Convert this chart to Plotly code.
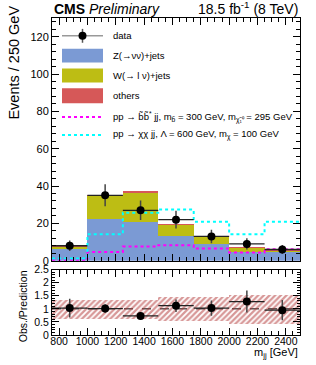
import plotly.graph_objects as go

# ---------------- data ----------------
bin_lo = [750, 1000, 1250, 1500, 1750, 2000, 2250]
bin_hi = [1000, 1250, 1500, 1750, 2000, 2250, 2500]
bin_centers = [875, 1125, 1375, 1625, 1875, 2125, 2375]
bin_halfwidth = [125, 125, 125, 125, 125, 125, 125]

z_jets = [6.5, 22.3, 20.5, 13.1, 9.2, 4.8, 4.4]
w_jets = [1.0, 12.4, 15.8, 6.2, 3.8, 2.1, 1.3]
others = [0.1, 0.3, 0.9, 0.3, 0.1, 0.1, 0.1]

data_vals = [8, 35, 27, 22, 13, 9, 6]
data_errs = [2.8, 5.9, 5.2, 4.7, 3.6, 3.0, 2.4]

sbottom = [0.4, 4.6, 7.6, 8.3, 6.5, 4.4, 6.2]
dm_sig = [1.2, 14.2, 25.7, 27.4, 20.9, 14.2, 20.9]

ratio_vals = [1.03, 1.01, 0.73, 1.12, 1.03, 1.28, 0.95]
ratio_errs = [0.36, 0.17, 0.14, 0.24, 0.29, 0.42, 0.39]
band_lo = [0.63, 0.63, 0.63, 0.55, 0.55, 0.45, 0.45]
band_hi = [1.37, 1.37, 1.37, 1.45, 1.45, 1.55, 1.55]

C_Z = "#7b9ad4"
C_W = "#bdbd14"
C_O = "#d65858"
FONT = "Liberation Sans, Arial, Helvetica, sans-serif"

W, H = 316, 365
ML, MR, MT, MB = 52, 16, 15, 30
PW, PH = W - ML - MR, H - MT - MB


def px(xp):
    return (xp - ML) / PW


def py(yp):
    return (H - MB - yp) / PH


fig = go.Figure()

widths = [h - l for l, h in zip(bin_lo, bin_hi)]
for name, vals, col in [("Z", z_jets, C_Z), ("W", w_jets, C_W), ("others", others, C_O)]:
    fig.add_trace(go.Bar(x=bin_centers, y=vals, width=widths, marker=dict(color=col, line=dict(width=0)),
                         xaxis="x", yaxis="y", showlegend=False, name=name))

# signal step lines
edges = bin_lo + [bin_hi[-1]]
fig.add_trace(go.Scatter(x=edges, y=sbottom + [sbottom[-1]], mode="lines", line=dict(shape="hv", color="#ff00ff", width=2, dash="dot"),
                         xaxis="x", yaxis="y", showlegend=False))
fig.add_trace(go.Scatter(x=edges, y=dm_sig + [dm_sig[-1]], mode="lines", line=dict(shape="hv", color="#00ffff", width=2, dash="dot"),
                         xaxis="x", yaxis="y", showlegend=False))

# data
fig.add_trace(go.Scatter(x=bin_centers, y=data_vals, mode="markers",
                         marker=dict(color="black", size=8),
                         error_y=dict(type="data", array=data_errs, color="#444", thickness=1.5, width=0),
                         error_x=dict(type="data", array=bin_halfwidth, color="#222", thickness=1.3, width=0),
                         xaxis="x", yaxis="y", showlegend=False))

# ratio band
fig.add_trace(go.Bar(x=bin_centers, y=[h - l for l, h in zip(band_lo, band_hi)], base=band_lo, width=widths,
                     marker=dict(color="rgba(0,0,0,0)", line=dict(width=0),
                                 pattern=dict(shape="/", fgcolor="#b03030", bgcolor="rgba(0,0,0,0)",
                                              size=4, solidity=0.55)),
                     xaxis="x2", yaxis="y2", showlegend=False))

fig.add_trace(go.Scatter(x=bin_centers, y=ratio_vals, mode="markers",
                         marker=dict(color="black", size=8),
                         error_y=dict(type="data", array=ratio_errs, color="#444", thickness=1.5, width=0),
                         error_x=dict(type="data", array=bin_halfwidth, color="#222", thickness=1.3, width=0),
                         xaxis="x2", yaxis="y2", showlegend=False))

axis_common = dict(showline=True, linecolor="black", linewidth=1, mirror="allticks", ticks="inside",
                   showgrid=False, zeroline=False, tickcolor="black")

fig.update_layout(
    width=W, height=H, margin=dict(l=ML, r=MR, t=MT, b=MB),
    paper_bgcolor="white", plot_bgcolor="white",
    barmode="stack", bargap=0,
    font=dict(family=FONT, color="black"),
    xaxis=dict(domain=[0, 1], anchor="y", range=[750, 2500], showticklabels=False, tick0=800, dtick=200, ticklen=7,
               minor=dict(ticks="inside", tick0=750, dtick=50, ticklen=4, tickcolor="black"), **axis_common),
    yaxis=dict(domain=[py(260), 1], anchor="x", range=[0, 130], tick0=0, dtick=20, ticklen=7,
               tickfont=dict(size=11), minor=dict(ticks="inside", dtick=4, ticklen=4, tickcolor="black"), **axis_common),
    xaxis2=dict(domain=[0, 1], anchor="y2", range=[750, 2500], tick0=800, dtick=200, ticklen=7,
                tickfont=dict(size=10.5), ticklabelstandoff=-4,
                minor=dict(ticks="inside", tick0=750, dtick=50, ticklen=4, tickcolor="black"),
                **axis_common),
    yaxis2=dict(domain=[0, py(269)], anchor="x2", range=[0, 2.5], tick0=0, dtick=0.5, ticklen=7,
                tickfont=dict(size=10.5), minor=dict(ticks="inside", dtick=0.1, ticklen=3, tickcolor="black"),
                **axis_common),
)

shapes = []
# ratio reference line at 1
shapes.append(dict(type="line", xref="x2 domain", yref="y2", x0=0, x1=1, y0=1, y1=1,
                   line=dict(color="black", width=1, dash="dash"), layer="below"))

# manual legend
lx0, lx1 = px(62), px(103)
shapes.append(dict(type="line", xref="paper", yref="paper", x0=lx0, x1=lx1, y0=py(33), y1=py(33),
                   line=dict(color="#999", width=1.5)))
shapes.append(dict(type="line", xref="paper", yref="paper", x0=px(82.5), x1=px(82.5), y0=py(26), y1=py(40),
                   line=dict(color="#555", width=1.5)))
shapes.append(dict(type="circle", xref="paper", yref="paper", xsizemode="pixel", ysizemode="pixel",
                   xanchor=px(82.5), yanchor=py(33), x0=-4, x1=4, y0=-4, y1=4,
                   fillcolor="black", line=dict(color="black", width=0)))
for (ya, yb), col in [((46, 60), C_Z), ((66, 80), C_W), ((86, 101), C_O)]:
    shapes.append(dict(type="rect", xref="paper", yref="paper", x0=lx0, x1=lx1, y0=py(yb), y1=py(ya),
                       fillcolor=col, line=dict(width=0)))
shapes.append(dict(type="line", xref="paper", yref="paper", x0=lx0, x1=lx1, y0=py(115), y1=py(115),
                   line=dict(color="#ff00ff", width=2, dash="dot")))
shapes.append(dict(type="line", xref="paper", yref="paper", x0=lx0, x1=lx1, y0=py(133), y1=py(133),
                   line=dict(color="#00ffff", width=2, dash="dot")))
fig.update_layout(shapes=shapes)

ann = []
leg_labels = [
    (33, "data"),
    (53, "Z(→νν)+jets"),
    (73, "W(→ l ν)+jets"),
    (93, "others"),
    (115, "pp → b\u0303b\u0303<sup>*</sup> jj, m<sub>b\u0303</sub> = 300 GeV, m<sub>χ\u0303₁⁰</sub> = 295 GeV"),
    (133, "pp → χχ jj, Λ = 600 GeV, m<sub>χ</sub> = 100 GeV"),
]
for yy, t in leg_labels:
    ann.append(dict(xref="paper", yref="paper", x=px(111), y=py(yy), xanchor="left", yanchor="middle",
                    text=t, showarrow=False, font=dict(size=9.5, family=FONT)))

ann.append(dict(xref="paper", yref="paper", x=0, y=1, xanchor="left", yanchor="bottom", yshift=-1,
                text="<b>CMS</b> <i>Preliminary</i>", showarrow=False, font=dict(size=14, family=FONT)))
ann.append(dict(xref="paper", yref="paper", x=1, y=1, xanchor="right", yanchor="bottom", yshift=-1,
                text="18.5 fb<sup>-1</sup> (8 TeV)", showarrow=False, font=dict(size=14, family=FONT)))
ann.append(dict(xref="paper", yref="paper", x=px(14), y=py(60), xanchor="center", yanchor="middle",
                text="Events / 250 GeV", textangle=-90, showarrow=False, font=dict(size=14.5, family=FONT)))
ann.append(dict(xref="paper", yref="paper", x=px(23), y=py(306), xanchor="center", yanchor="middle",
                text="Obs./Prediction", textangle=-90, showarrow=False, font=dict(size=10.5, family=FONT)))
ann.append(dict(xref="paper", yref="paper", x=1, y=py(353), xanchor="right", yanchor="middle",
                text="m<sub>jj</sub> [GeV]", showarrow=False, font=dict(size=11, family=FONT)))
fig.update_layout(annotations=ann)

fig.write_html("out.html", config={"displayModeBar": False},
               post_script="document.body.style.margin='0';document.body.style.padding='0';")
